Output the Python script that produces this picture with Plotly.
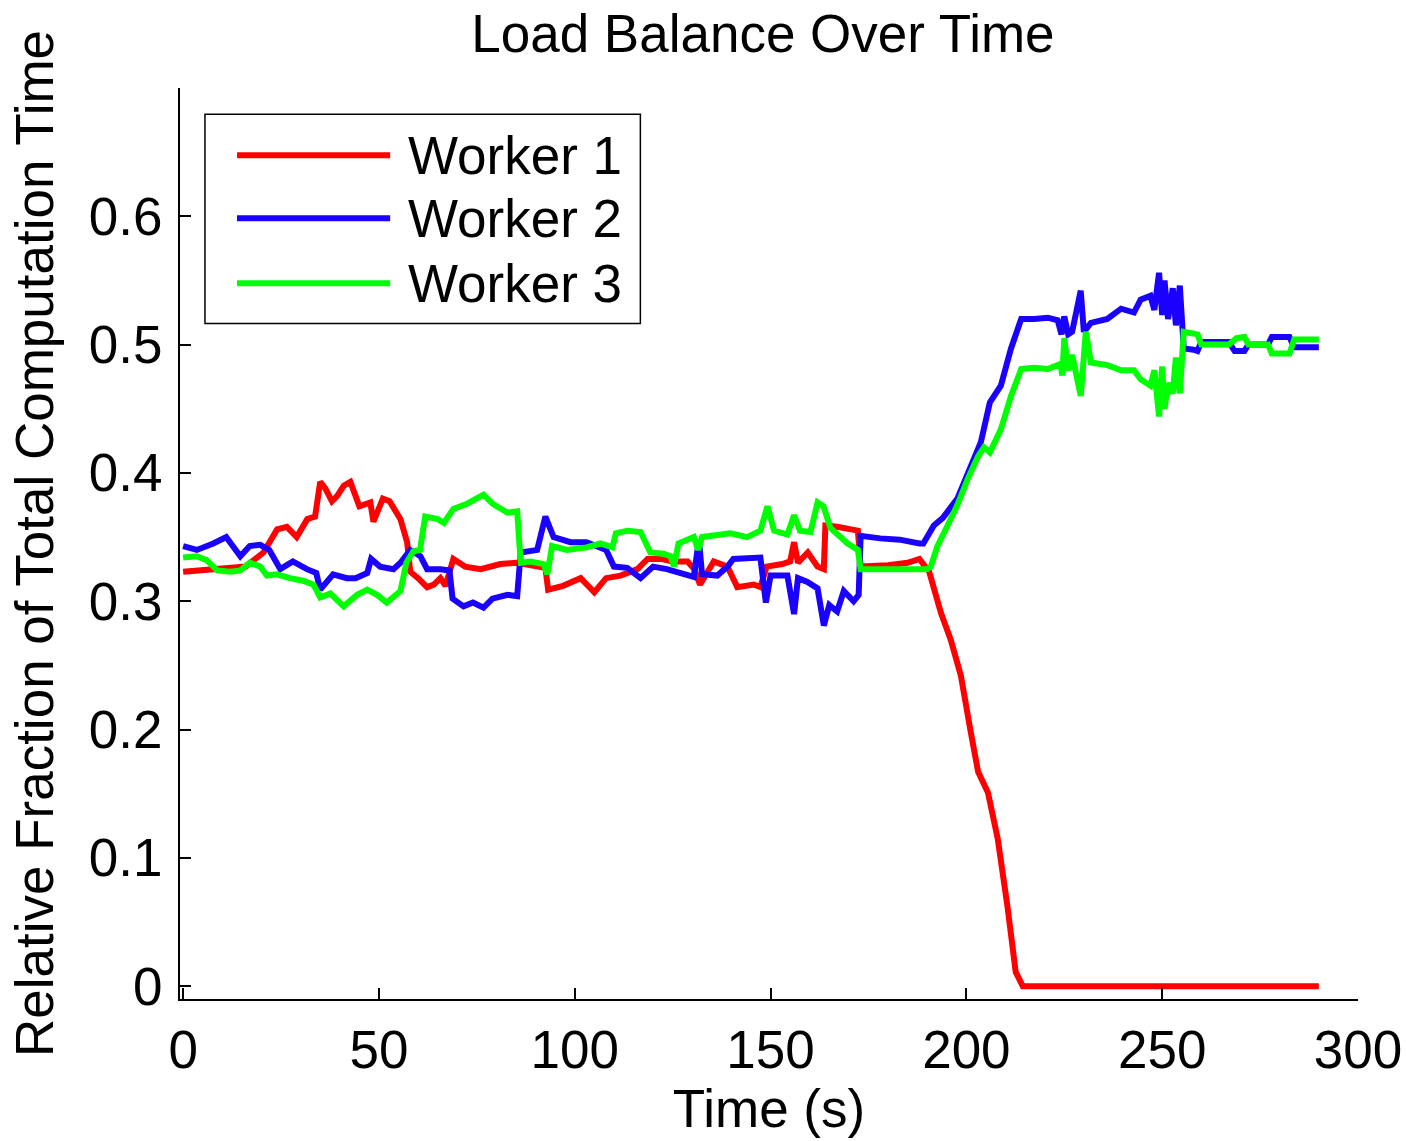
import plotly.graph_objects as go

# ---------------- data ----------------
series_names = ["Worker 1", "Worker 2", "Worker 3"]
series_colors = ["#ff0000", "#1a00ff", "#00ff00"]

t_w1 = [0, 5, 10, 12, 16, 20.5, 22, 24, 26.5, 29, 31.7, 33.7, 35, 36.3, 38, 39.3, 41, 42.7, 45, 47.8,
        48.6, 51, 52.7, 55.5, 57.2, 58, 60, 62.3, 64, 65.7, 67, 69, 72, 76, 81, 85, 87, 90, 92.5, 93.2,
        97, 101.5, 105, 108, 111.7, 116, 118.6, 122, 125, 127, 128.8, 130.5, 132, 135.5, 139, 141.5, 145.7, 147.4, 149, 153,
        155, 156, 157, 159.5, 162, 163.6, 164, 167, 169.7, 172.3, 173, 175, 180, 185, 188, 190.5, 193.5, 196, 198.6, 201,
        203, 205.5, 208, 210.5, 212.6, 214.4, 220, 250, 290]
y_w1 = [0.323, 0.324, 0.325, 0.326, 0.327, 0.338, 0.345, 0.356, 0.358, 0.350, 0.364, 0.366, 0.393, 0.388, 0.378, 0.382, 0.390, 0.393, 0.374, 0.377,
        0.362, 0.380, 0.378, 0.364, 0.346, 0.323, 0.318, 0.311, 0.313, 0.318, 0.312, 0.333, 0.327, 0.325, 0.329, 0.330, 0.329, 0.327, 0.326, 0.309,
        0.312, 0.318, 0.307, 0.318, 0.320, 0.325, 0.333, 0.333, 0.331, 0.331, 0.331, 0.325, 0.313, 0.331, 0.327, 0.311, 0.313, 0.311, 0.327, 0.329,
        0.331, 0.346, 0.330, 0.338, 0.327, 0.325, 0.359, 0.358, 0.356, 0.355, 0.327, 0.327, 0.328, 0.330, 0.333, 0.323, 0.291, 0.270, 0.242, 0.200,
        0.167, 0.151, 0.115, 0.062, 0.011, 0.0, 0.0, 0.0, 0.0]

t_w2 = [0, 3.5, 7.7, 11, 14.6, 17, 19.7, 22, 24.8, 28, 31.6, 34, 35, 38.3, 41.8, 44, 47, 48, 50.3, 53.7,
        55.5, 58, 60.6, 62.3, 65.7, 68, 68.8, 71.6, 74, 76.7, 79, 82.8, 85.3, 86.2, 90.4, 92.5, 94.6, 98.9, 103, 108,
        110, 113.4, 116.8, 120, 123.5, 126.8, 128.7, 130.4, 131.7, 132.5, 136.4, 139, 140.5, 145, 147.4, 148.8, 150, 154.3, 156, 157,
        159.4, 162, 163.6, 165, 167, 168.7, 171.2, 172.5, 173, 178, 183, 188, 189, 191.7, 194, 197.7, 201, 203.7, 206, 208.8,
        211.4, 214, 217.3, 220.8, 223.3, 224.3, 225, 226, 227, 229.2, 230, 231.8, 236, 239.5, 242.8, 244.5, 247, 248, 249.2, 250,
        250.6, 251.5, 252.7, 253.5, 254.5, 255.5, 258, 259, 260, 267, 268.5, 271, 272, 277, 278, 282.5, 283.7, 290]
y_w2 = [0.343, 0.340, 0.345, 0.350, 0.335, 0.343, 0.344, 0.340, 0.325, 0.331, 0.325, 0.322, 0.309, 0.321, 0.318, 0.318, 0.322, 0.333, 0.327, 0.325,
        0.330, 0.340, 0.335, 0.325, 0.325, 0.324, 0.302, 0.296, 0.299, 0.295, 0.302, 0.305, 0.304, 0.338, 0.340, 0.366, 0.350, 0.346, 0.346, 0.340,
        0.327, 0.326, 0.318, 0.327, 0.325, 0.322, 0.320, 0.319, 0.348, 0.321, 0.320, 0.327, 0.333, 0.333, 0.334, 0.299, 0.320, 0.320, 0.290, 0.318,
        0.315, 0.310, 0.281, 0.297, 0.292, 0.308, 0.300, 0.305, 0.351, 0.349, 0.348, 0.345, 0.345, 0.359, 0.365, 0.380, 0.405, 0.424, 0.455, 0.468,
        0.497, 0.520, 0.520, 0.521, 0.519, 0.508, 0.522, 0.508, 0.510, 0.542, 0.510, 0.517, 0.520, 0.528, 0.525, 0.535, 0.538, 0.527, 0.556, 0.523,
        0.550, 0.520, 0.544, 0.515, 0.546, 0.497, 0.496, 0.495, 0.502, 0.502, 0.495, 0.495, 0.500, 0.500, 0.506, 0.506, 0.498, 0.498]

t_w3 = [0, 3.5, 6, 8.7, 12, 14.6, 17, 19.7, 21.4, 24, 27.3, 30.6, 33.3, 35, 37.6, 41, 44.4, 47, 49.5, 52,
        55.5, 57, 58.8, 60.5, 61.8, 65, 66.6, 69, 72.5, 76.7, 79, 82.8, 85.3, 86.2, 88.7, 92, 93, 94.2, 98, 103,
        106.6, 109.6, 110.5, 113.5, 116.8, 119.3, 122.7, 124.5, 125.3, 126.5, 130.4, 131.5, 132.5, 136.4, 139.8, 144, 147.4, 149.2, 150.9, 154.3,
        156, 157.5, 160.2, 162, 163.5, 165.3, 169.7, 172.3, 173, 180, 190, 190.9, 192.6, 195.2, 197.7, 200.3, 203, 204.5, 206, 208.8,
        211.4, 214, 217.3, 220.8, 224, 224.5, 225, 226, 227, 229.2, 230.5, 231.8, 236, 239.5, 242.8, 244.5, 247, 248, 249.2, 250,
        250.6, 251.5, 252.7, 253.5, 254.5, 255.5, 259, 260, 267, 269, 271, 272, 277, 278, 282.5, 283.7, 290]
y_w3 = [0.334, 0.335, 0.332, 0.324, 0.323, 0.324, 0.330, 0.327, 0.320, 0.321, 0.318, 0.316, 0.313, 0.303, 0.306, 0.296, 0.305, 0.309, 0.305, 0.299,
        0.308, 0.330, 0.339, 0.340, 0.366, 0.364, 0.361, 0.372, 0.376, 0.383, 0.376, 0.369, 0.370, 0.330, 0.331, 0.329, 0.321, 0.343, 0.340, 0.342,
        0.345, 0.342, 0.353, 0.355, 0.354, 0.338, 0.337, 0.335, 0.327, 0.345, 0.350, 0.340, 0.350, 0.351, 0.353, 0.350, 0.355, 0.374, 0.355, 0.352,
        0.367, 0.355, 0.354, 0.377, 0.374, 0.357, 0.345, 0.340, 0.325, 0.325, 0.325, 0.327, 0.343, 0.359, 0.375, 0.395, 0.413, 0.420, 0.416, 0.434,
        0.460, 0.481, 0.482, 0.481, 0.485, 0.476, 0.505, 0.480, 0.492, 0.460, 0.510, 0.486, 0.484, 0.480, 0.480, 0.473, 0.468, 0.480, 0.444, 0.483,
        0.450, 0.470, 0.462, 0.490, 0.462, 0.510, 0.508, 0.500, 0.500, 0.505, 0.506, 0.500, 0.500, 0.493, 0.493, 0.504, 0.504]

x_ticks = [0, 50, 100, 150, 200, 250, 300]
y_ticks = [0, 0.1, 0.2, 0.3, 0.4, 0.5, 0.6]
y_tick_labels = ["0", "0.1", "0.2", "0.3", "0.4", "0.5", "0.6"]

title_text = "Load Balance Over Time"
x_title = "Time (s)"
y_title = "Relative Fraction of Total Computation Time"

# ---------------- figure ----------------
FONT = "Liberation Sans, Arial, Helvetica, sans-serif"
FS = 53
series = [(t_w1, y_w1), (t_w2, y_w2), (t_w3, y_w3)]
for (tt, yy) in series:
    assert len(tt) == len(yy), (len(tt), len(yy))

fig = go.Figure()
for (tt, yy), name, col in zip(series, series_names, series_colors):
    fig.add_trace(go.Scatter(x=tt, y=yy, mode="lines", name=name,
                             line=dict(color=col, width=6), showlegend=False))

# manual MATLAB-style legend (paper coordinates)
shapes = [dict(type="rect", xref="paper", yref="paper", x0=0.0212, x1=0.3908, y0=0.7415, y1=0.9713,
               line=dict(color="black", width=1.5), fillcolor="white", layer="above")]
annotations = []
row_y = [0.9262, 0.8570, 0.7857]
for name, col, ry in zip(series_names, series_colors, row_y):
    shapes.append(dict(type="line", xref="paper", yref="paper", x0=0.0484, x1=0.1784, y0=ry, y1=ry,
                       line=dict(color=col, width=6), layer="above"))
    annotations.append(dict(xref="paper", yref="paper", x=0.1920, y=ry, text=name, showarrow=False,
                            xanchor="left", yanchor="middle", font=dict(size=FS, color="black", family=FONT)))

fig.update_layout(
    width=1406, height=1141,
    margin=dict(l=180, r=48, t=88, b=142, autoexpand=False),
    paper_bgcolor="white", plot_bgcolor="white",
    font=dict(family=FONT, color="black", size=FS),
    title=dict(text=title_text, x=0.5426, xanchor="center", y=0.971, yanchor="middle",
               font=dict(size=FS, family=FONT, color="black")),
    shapes=shapes, annotations=annotations,
    showlegend=False,
)
fig.update_xaxes(range=[-0.8, 300], showline=True, linecolor="black", linewidth=2, mirror=False,
                 automargin=False,
                 ticks="inside", ticklen=11, tickwidth=2, tickcolor="black", ticklabelstandoff=3,
                 tickvals=x_ticks, tickfont=dict(size=FS), showgrid=False, zeroline=False,
                 title=dict(text=x_title, font=dict(size=FS), standoff=10))
fig.update_yaxes(range=[-0.01, 0.7], showline=True, linecolor="black", linewidth=2, mirror=False,
                 automargin=False,
                 ticks="inside", ticklen=11, tickwidth=2, tickcolor="black", ticklabelstandoff=5,
                 tickvals=y_ticks, ticktext=y_tick_labels, tickfont=dict(size=FS),
                 showgrid=False, zeroline=False,
                 title=dict(text=y_title, font=dict(size=FS), standoff=18))

fig.write_html("out.html")
